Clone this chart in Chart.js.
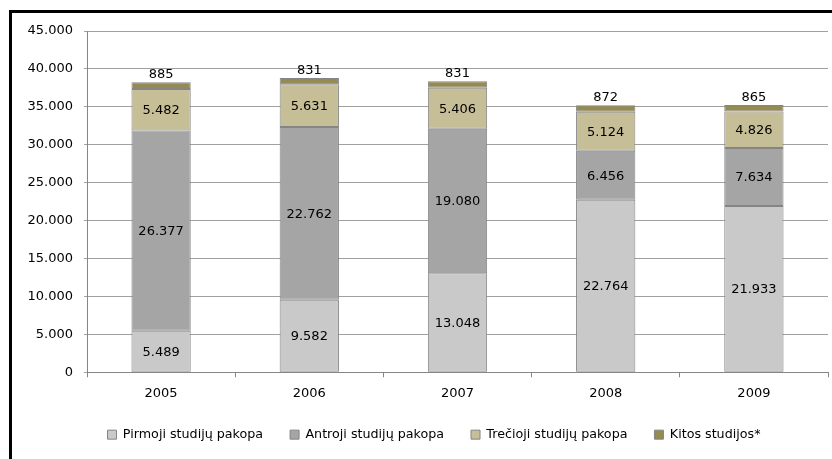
<!DOCTYPE html>
<html>
<head>
<meta charset="utf-8">
<script src="https://cdn.jsdelivr.net/npm/chart.js@4.4.1/dist/chart.umd.min.js"></script>
<style>
  html, body { margin: 0; padding: 0; background: #fff; overflow: hidden; }
  #wrap { position: relative; width: 832px; height: 459px; }
  #frame { position: absolute; left: 9px; top: 10px; width: 900px; height: 520px;
           border: 3px solid #000; box-sizing: border-box; pointer-events: none; }
  canvas { position: absolute; left: 0; top: 0; }
</style>
</head>
<body>
<div id="wrap">
  <canvas id="studChart" width="832" height="459"></canvas>
  <div id="frame"></div>
</div>
<script>
const years = ["2005", "2006", "2007", "2008", "2009"];
const pirmoji = [5489, 9582, 13048, 22764, 21933];
const antroji = [26377, 22762, 19080, 6456, 7634];
const trecioji = [5482, 5631, 5406, 5124, 4826];
const kitos = [885, 831, 831, 872, 865];
const seriesNames = ["Pirmoji studijų pakopa", "Antroji studijų pakopa", "Trečioji studijų pakopa", "Kitos studijos*"];
const seriesColors = ["#c9c9c9", "#a5a5a5", "#c6be97", "#948a54"];
const yTicks = [0, 5000, 10000, 15000, 20000, 25000, 30000, 35000, 40000, 45000];

const FONT = "'DejaVu Sans', Verdana, sans-serif";

function fmt(v) {
  return String(v).replace(/\B(?=(\d{3})+(?!\d))/g, ".");
}

// value labels: inside the segments, the last series sits above the bar
const barLabels = {
  id: "barLabels",
  afterDatasetsDraw(chart) {
    const ctx = chart.ctx;
    ctx.save();
    ctx.font = "13px " + FONT;
    ctx.fillStyle = "#000";
    ctx.textAlign = "center";
    chart.data.datasets.forEach((ds, di) => {
      const meta = chart.getDatasetMeta(di);
      meta.data.forEach((bar, i) => {
        const txt = fmt(ds.data[i]);
        if (di === chart.data.datasets.length - 1) {
          ctx.textBaseline = "bottom";
          ctx.fillText(txt, bar.x, bar.y - 1);
        } else {
          ctx.textBaseline = "middle";
          ctx.fillText(txt, bar.x, (bar.y + bar.base) / 2 + 1);
        }
      });
    });
    ctx.restore();
  }
};

// nudge the legend row to the right, under the plot
const legendShift = {
  id: "legendShift",
  afterLayout(chart) {
    chart.legend.left += 40;
  }
};

const allSeries = [pirmoji, antroji, trecioji, kitos];

new Chart(document.getElementById("studChart").getContext("2d"), {
  type: "bar",
  data: {
    labels: years,
    datasets: allSeries.map((d, i) => ({
      label: seriesNames[i],
      data: d,
      backgroundColor: seriesColors[i],
      borderColor: "#858585",
      borderWidth: 1,
      borderSkipped: false,
      barPercentage: 0.4,
      categoryPercentage: 1.0,
    })),
  },
  options: {
    responsive: false,
    animation: false,
    layout: { padding: { top: 31, left: 0, right: 4, bottom: 8 } },
    plugins: {
      tooltip: { enabled: false },
      legend: {
        position: "bottom",
        labels: {
          boxWidth: 9,
          boxHeight: 9,
          padding: 27,
          color: "#000",
          font: { family: FONT, size: 12.7 },
        },
      },
    },
    scales: {
      x: {
        stacked: true,
        afterFit: (s) => { s.height = 29; },
        grid: { offset: true, drawOnChartArea: false, tickLength: 5, color: "#868686" },
        border: { color: "#868686" },
        ticks: { color: "#000", padding: 9, font: { family: FONT, size: 13 } },
      },
      y: {
        stacked: true,
        min: 0,
        max: 45000,
        afterFit: (s) => { s.width = 87; },
        afterBuildTicks: (s) => { s.ticks = yTicks.map((v) => ({ value: v })); },
        grid: { color: "#a0a0a0", tickLength: 3 },
        border: { color: "#868686" },
        ticks: {
          color: "#000",
          padding: 11,
          font: { family: FONT, size: 13 },
          callback: (v) => fmt(v),
        },
      },
    },
  },
  plugins: [barLabels, legendShift],
});
</script>
</body>
</html>
